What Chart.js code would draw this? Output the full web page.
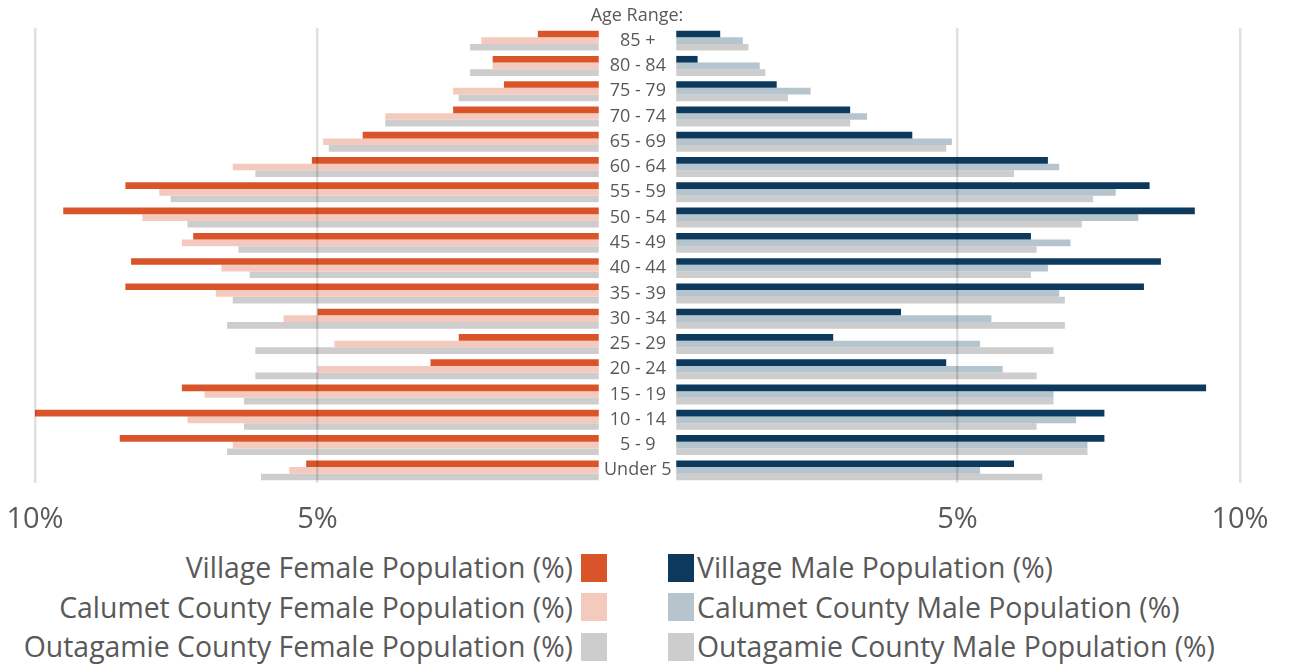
<!DOCTYPE html>
<html>
<head>
<meta charset="utf-8">
<script src="https://cdn.jsdelivr.net/npm/chart.js@4.4.0/dist/chart.umd.min.js"></script>
<style>
  body { margin: 0; background: #fff; font-family: "Open Sans", sans-serif; color: #595959; }
  #wrap { position: relative; width: 1297px; height: 667px; overflow: hidden; }
  #leftBox { position: absolute; left: 0; top: 0; width: 675px; height: 545px; }
  #rightBox { position: absolute; left: 675px; top: 0; width: 622px; height: 545px; }
  #ageTitle { position: absolute; left: 575px; top: 2px; width: 124px; text-align: center; font-size: 18px; }
  .legend { position: absolute; top: 548px; font-size: 28.4px; line-height: 39.5px; }
  .legend .item { display: flex; align-items: center; height: 39.5px; }
  .legend .box { width: 26px; height: 28px; flex: none; }
  #legLeft { right: 690px; }
  #legLeft .item { justify-content: flex-end; }
  #legLeft .box { margin-left: 8px; }
  #legRight { left: 668px; }
  #legRight .box { margin-right: 3px; }
</style>
</head>
<body>
<div id="wrap">
  <div id="leftBox"><canvas id="femaleChart"></canvas></div>
  <div id="rightBox"><canvas id="maleChart"></canvas></div>
  <div id="ageTitle">Age Range:</div>
  <div class="legend" id="legLeft"></div>
  <div class="legend" id="legRight"></div>
</div>
<script>
// Age groups, top to bottom
var ageGroups = ["85 +", "80 - 84", "75 - 79", "70 - 74", "65 - 69", "60 - 64", "55 - 59", "50 - 54", "45 - 49",
  "40 - 44", "35 - 39", "30 - 34", "25 - 29", "20 - 24", "15 - 19", "10 - 14", "5 - 9", "Under 5"];

// Female population (%)
var villageFemale = [1.1, 1.9, 1.7, 2.6, 4.2, 5.1, 8.4, 9.5, 7.2, 8.3, 8.4, 5.0, 2.5, 3.0, 7.4, 10.2, 8.5, 5.2];
var calumetFemale = [2.1, 1.9, 2.6, 3.8, 4.9, 6.5, 7.8, 8.1, 7.4, 6.7, 6.8, 5.6, 4.7, 5.0, 7.0, 7.3, 6.5, 5.5];
var outagamieFemale = [2.3, 2.3, 2.5, 3.8, 4.8, 6.1, 7.6, 7.3, 6.4, 6.2, 6.5, 6.6, 6.1, 6.1, 6.3, 6.3, 6.6, 6.0];

// Male population (%)
var villageMale = [0.8, 0.4, 1.8, 3.1, 4.2, 6.6, 8.4, 9.2, 6.3, 8.6, 8.3, 4.0, 2.8, 4.8, 9.4, 7.6, 7.6, 6.0];
var calumetMale = [1.2, 1.5, 2.4, 3.4, 4.9, 6.8, 7.8, 8.2, 7.0, 6.6, 6.8, 5.6, 5.4, 5.8, 6.7, 7.1, 7.3, 5.4];
var outagamieMale = [1.3, 1.6, 2.0, 3.1, 4.8, 6.0, 7.4, 7.2, 6.4, 6.3, 6.9, 6.9, 6.7, 6.4, 6.7, 6.4, 7.3, 6.5];

var femaleLabels = ["Village Female Population (%)", "Calumet County Female Population (%)", "Outagamie County Female Population (%)"];
var maleLabels = ["Village Male Population (%)", "Calumet County Male Population (%)", "Outagamie County Male Population (%)"];
var femaleColors = ["#DA5429", "#F3CABD", "#CDCDCD"];
var maleColors = ["#0D3A5C", "#B6C4CD", "#CDCDCD"];

var textColor = "#595959";
var fontFamily = "'Open Sans', sans-serif";

function makeDatasets(labels, colors, series) {
  return series.map(function (values, i) {
    return {
      label: labels[i],
      data: values,
      backgroundColor: colors[i],
      borderWidth: 0,
      barPercentage: 1,
      categoryPercentage: 0.79
    };
  });
}

function xScale(reverse) {
  return {
    min: 0,
    max: 10,
    reverse: reverse,
    border: { display: false },
    grid: {
      z: 1,
      lineWidth: 2.5,
      drawTicks: false,
      color: function (ctx) {
        return ctx.tick && ctx.tick.value === 0 ? "rgba(0,0,0,0)" : "rgba(0,0,0,0.12)";
      }
    },
    ticks: {
      stepSize: 5,
      padding: 19,
      color: textColor,
      font: { family: fontFamily, size: 29 },
      callback: function (value) { return value === 0 ? "" : value + "%"; }
    },
    afterFit: function (scale) {
      scale.height = 60;
      // let the layout padding alone decide where the plot starts and ends
      scale.paddingLeft = 0;
      scale.paddingRight = 0;
    }
  };
}

var commonPlugins = {
  legend: { display: false },
  tooltip: { enabled: false }
};

// Female side (left): reversed axis, age labels on the right edge
var femaleChart = new Chart(document.getElementById("femaleChart").getContext("2d"), {
  type: "bar",
  data: {
    labels: ageGroups,
    datasets: makeDatasets(femaleLabels, femaleColors, [villageFemale, calumetFemale, outagamieFemale])
  },
  options: {
    indexAxis: "y",
    responsive: true,
    maintainAspectRatio: false,
    animation: false,
    layout: { padding: { left: 35, top: 28, bottom: 2, right: 0 } },
    scales: {
      x: xScale(true),
      y: {
        position: "right",
        border: { display: false },
        grid: { display: false, drawTicks: false },
        ticks: {
          crossAlign: "center",
          padding: 4,
          color: textColor,
          font: { family: fontFamily, size: 18 }
        },
        afterFit: function (scale) { scale.width = 75; }
      }
    },
    plugins: commonPlugins
  }
});

// Male side (right)
var maleChart = new Chart(document.getElementById("maleChart").getContext("2d"), {
  type: "bar",
  data: {
    labels: ageGroups,
    datasets: makeDatasets(maleLabels, maleColors, [villageMale, calumetMale, outagamieMale])
  },
  options: {
    indexAxis: "y",
    responsive: true,
    maintainAspectRatio: false,
    animation: false,
    layout: { padding: { left: 0, top: 28, bottom: 2, right: 57 } },
    scales: {
      x: xScale(false),
      y: { display: false }
    },
    plugins: commonPlugins
  }
});

// Legend built from the chart datasets
function buildLegend(chart, el, boxFirst) {
  chart.data.datasets.forEach(function (ds) {
    var item = document.createElement("div");
    item.className = "item";
    var box = document.createElement("span");
    box.className = "box";
    box.style.background = ds.backgroundColor;
    var txt = document.createElement("span");
    txt.textContent = ds.label;
    if (boxFirst) { item.appendChild(box); item.appendChild(txt); }
    else { item.appendChild(txt); item.appendChild(box); }
    el.appendChild(item);
  });
}
buildLegend(femaleChart, document.getElementById("legLeft"), false);
buildLegend(maleChart, document.getElementById("legRight"), true);
</script>
</body>
</html>
